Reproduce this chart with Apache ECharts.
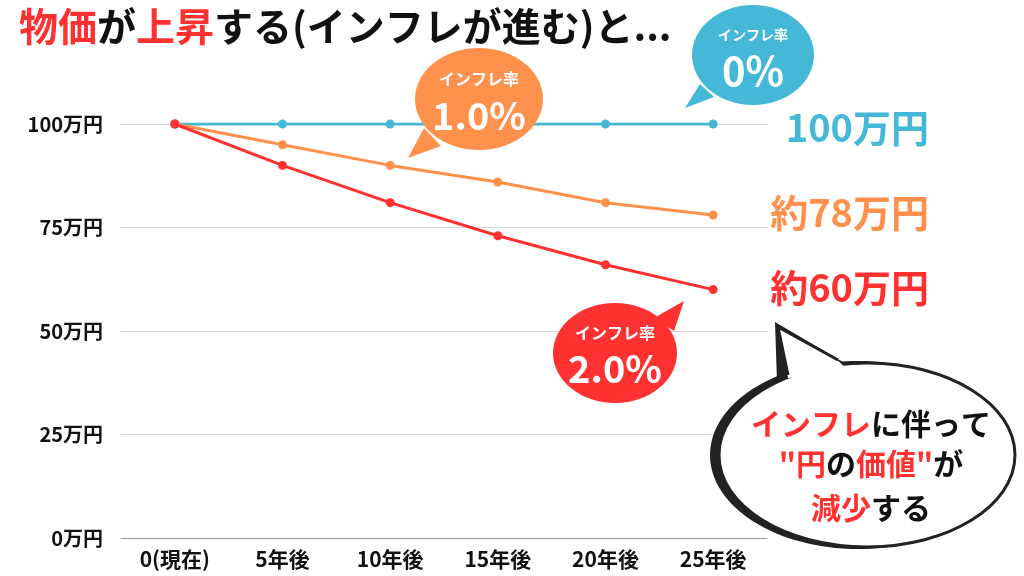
<!DOCTYPE html>
<html><head><meta charset="utf-8">
<script src="https://cdn.jsdelivr.net/npm/echarts@6/dist/echarts.min.js"></script>
<style>html,body{margin:0;padding:0;background:#fff}#c{width:1024px;height:576px}</style>
</head><body><div id="c"></div>
<script>
const categories = ['0(現在)', '5年後', '10年後', '15年後', '20年後', '25年後'];
const rate0 = [100, 100, 100, 100, 100, 100];
const rate1 = [100, 95, 90, 86, 81, 78];
const rate2 = [100, 90, 81, 73, 66, 60];
const yTicks = [0, 25, 50, 75, 100];
const endLabels = ['100万円', '約78万円', '約60万円'];
const bubbleLabels = ['0%', '1.0%', '2.0%'];

const FONT = '"Noto Sans CJK JP", "Noto Sans", sans-serif';
const BLUE = '#45B8D8', ORANGE = '#FF914D', RED = '#FF3131';

function bubble(cx, cy, rx, ry, tail, color, big, small, smallSize, bigSize) {
  return [
    {type: 'polygon', shape: {points: tail}, style: {fill: color}, z: 10},
    {type: 'ellipse', shape: {cx: cx, cy: cy, rx: rx, ry: ry}, style: {fill: color}, z: 10},
    {type: 'text', x: cx, y: cy - ry * 0.4, style: {text: small, fill: '#fff', font: 'bold ' + smallSize + 'px ' + FONT, textAlign: 'center', textVerticalAlign: 'middle'}, z: 11},
    {type: 'text', x: cx, y: cy + ry * 0.32, style: {text: big, fill: '#fff', font: 'bold ' + bigSize + 'px ' + FONT, textAlign: 'center', textVerticalAlign: 'middle'}, z: 11}
  ];
}

const chart = echarts.init(document.getElementById('c'));
const lineSeries = (name, data, color) => ({
  name: name, type: 'line', data: data,
  symbol: 'circle', symbolSize: 9,
  lineStyle: {color: color, width: 3},
  itemStyle: {color: color},
  animation: false
});

const graphics = [].concat(
  bubble(753, 55, 61, 50, [[685, 108], [700, 84], [714, 97]], BLUE, bubbleLabels[0], 'インフレ率', 14, 40),
  bubble(479, 99, 64, 51, [[408, 158], [424, 128], [441, 146]], ORANGE, bubbleLabels[1], 'インフレ率', 16, 38),
  bubble(615, 353, 62, 50, [[684, 301], [654, 318], [674, 331]], RED, bubbleLabels[2], 'インフレ率', 16, 38),
  [
    {type: 'text', x: 929, y: 128, style: {text: endLabels[0], fill: BLUE, font: 'bold 38px ' + FONT, textAlign: 'right', textVerticalAlign: 'middle'}, z: 12},
    {type: 'text', x: 929, y: 213, style: {text: endLabels[1], fill: ORANGE, font: 'bold 38px ' + FONT, textAlign: 'right', textVerticalAlign: 'middle'}, z: 12},
    {type: 'text', x: 929, y: 288, style: {text: endLabels[2], fill: RED, font: 'bold 38px ' + FONT, textAlign: 'right', textVerticalAlign: 'middle'}, z: 12},
    // big speech bubble: shadow + white body
    {type: 'polygon', shape: {points: [[775, 322], [777, 382], [843, 362]]}, style: {fill: '#222'}, z: 13},
    {type: 'ellipse', shape: {cx: 858, cy: 455, rx: 148, ry: 94}, style: {fill: '#222'}, z: 13},
    {type: 'ellipse', shape: {cx: 867, cy: 455, rx: 148, ry: 92}, style: {fill: '#fff', stroke: '#222', lineWidth: 3}, z: 14},
    {type: 'polygon', shape: {points: [[779, 328], [788, 378], [850, 372], [835, 358]]}, style: {fill: '#fff'}, z: 15},
    {type: 'polyline', shape: {points: [[788, 375], [778, 327], [838, 360]]}, style: {stroke: '#222', lineWidth: 3, fill: null}, z: 15},
    {type: 'text', x: 871, y: 424, style: {rich: {r: {fill: RED, font: 'bold 30px ' + FONT}, k: {fill: '#111', font: 'bold 30px ' + FONT}}, text: '{r|インフレ}{k|に伴って}', textAlign: 'center', textVerticalAlign: 'middle'}, z: 16},
    {type: 'text', x: 871, y: 464, style: {rich: {r: {fill: RED, font: 'bold 30px ' + FONT}, k: {fill: '#111', font: 'bold 30px ' + FONT}}, text: '{r|"円}{k|の}{r|価値"}{k|が}', textAlign: 'center', textVerticalAlign: 'middle'}, z: 16},
    {type: 'text', x: 871, y: 508, style: {rich: {r: {fill: RED, font: 'bold 30px ' + FONT}, k: {fill: '#111', font: 'bold 30px ' + FONT}}, text: '{r|減少}{k|する}', textAlign: 'center', textVerticalAlign: 'middle'}, z: 16}
  ]
);

chart.setOption({
  backgroundColor: '#fff',
  animation: false,
  title: {
    left: 14, top: 2,
    text: '{r|物価}{k|が}{r|上昇}{k|する(インフレが進む)と...}',
    textStyle: {
      rich: {
        r: {color: RED, fontSize: 39, fontWeight: 'bold', fontFamily: FONT},
        k: {color: '#111', fontSize: 39, fontWeight: 'bold', fontFamily: FONT}
      }
    }
  },
  grid: {left: 121, right: 257, top: 124, bottom: 38},
  xAxis: {
    type: 'category', data: categories, boundaryGap: true,
    axisTick: {show: false},
    axisLine: {lineStyle: {color: '#999', width: 1}},
    axisLabel: {color: '#111', fontSize: 21, fontWeight: 'bold', fontFamily: FONT, margin: 11}
  },
  yAxis: {
    type: 'value', min: yTicks[0], max: yTicks[yTicks.length - 1], interval: 25,
    axisLine: {show: false}, axisTick: {show: false},
    splitLine: {lineStyle: {color: '#d9d9d9', width: 1}},
    axisLabel: {color: '#111', fontSize: 20, fontWeight: 'bold', fontFamily: FONT, margin: 18, formatter: '{value}万円'}
  },
  series: [
    lineSeries('0%', rate0, BLUE),
    lineSeries('1.0%', rate1, ORANGE),
    lineSeries('2.0%', rate2, RED)
  ],
  graphic: graphics
});
</script>
</body></html>
